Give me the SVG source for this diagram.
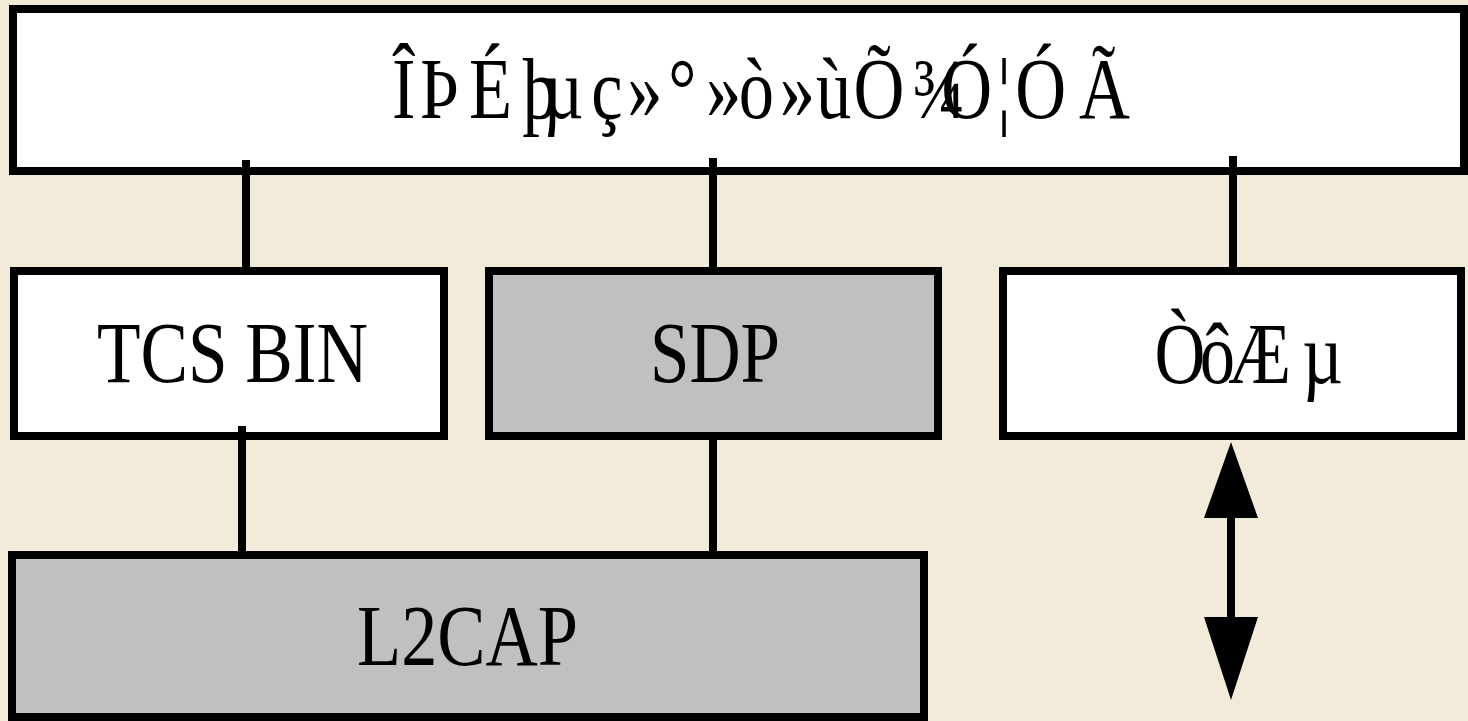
<svg xmlns="http://www.w3.org/2000/svg" width="1468" height="721" viewBox="0 0 1468 721">
  <style>
    .box { stroke: #000; stroke-width: 8; }
    .white { fill: #ffffff; }
    .gray { fill: #c0c0c0; }
    .lbl { font-family: "Liberation Serif", "Times New Roman", serif; font-size: 86px; fill: #000; }
    .wire { stroke: #000; stroke-width: 8; fill: none; }
  </style>
  <defs>
    <marker id="head" viewBox="0 0 54 78" refX="0" refY="27" markerWidth="54" markerHeight="78" markerUnits="userSpaceOnUse" orient="auto">
      <path d="M0 0 L78 27 L0 54 Z" fill="#000"/>
    </marker>
  </defs>

  <!-- paper background -->
  <rect x="0" y="0" width="1468" height="721" fill="#f3ebd9"/>

  <!-- top application layer -->
  <g id="app">
    <rect class="box white" x="13" y="9" width="1451" height="162"/>
    <text class="lbl" transform="scale(0.82 1)" y="118" x="478 512 572 637 662 721 765 815 861 901 951 995 1041 1113 1148 1216 1238 1316">ÎÞÉþµç»°»ò»ùÕ¾Ó¦ÓÃ</text>
  </g>

  <g id="tcsbin">
    <rect class="box white" x="14" y="271" width="430" height="165"/>
    <text class="lbl" x="97" y="382" textLength="271" lengthAdjust="spacingAndGlyphs">TCS BIN</text>
  </g>

  <g id="sdp">
    <rect class="box gray" x="489" y="271" width="449" height="165"/>
    <text class="lbl" x="650" y="382" textLength="130" lengthAdjust="spacingAndGlyphs">SDP</text>
  </g>

  <g id="audio">
    <rect class="box white" x="1003" y="271" width="458" height="165"/>
    <text class="lbl" transform="scale(0.82 1)" y="383" x="1408 1463 1498 1588">ÒôÆµ</text>
  </g>

  <g id="l2cap">
    <rect class="box gray" x="12" y="555" width="912" height="162"/>
    <text class="lbl" x="357" y="665" textLength="221" lengthAdjust="spacingAndGlyphs">L2CAP</text>
  </g>

  <!-- connectors -->
  <g id="connectors">
    <line class="wire" x1="246" y1="160" x2="246" y2="271"/>
    <line class="wire" x1="713" y1="158" x2="713" y2="271"/>
    <line class="wire" x1="1233" y1="156" x2="1233" y2="271"/>
    <line class="wire" x1="242" y1="426" x2="242" y2="555"/>
    <line class="wire" x1="713" y1="436" x2="713" y2="555"/>
    <!-- bidirectional audio path -->
    <path d="M1231 442 L1258 518 L1235 518 L1235 617 L1258 617 L1231 700 L1204 617 L1227 617 L1227 518 L1204 518 Z" fill="#000"/>
  </g>
</svg>
